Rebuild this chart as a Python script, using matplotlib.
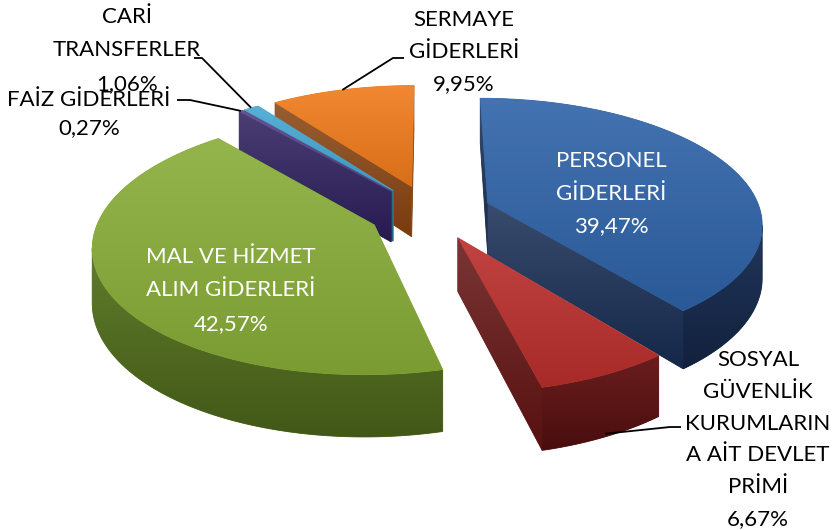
import numpy as np
import matplotlib
matplotlib.use("Agg")
import matplotlib.pyplot as plt
from matplotlib.patches import Polygon
from matplotlib.colors import to_rgb

# ─── Veri ─────────────────────────────────────────────────────────────────────
names = ["PERSONEL\nGİDERLERİ",
         "SOSYAL\nGÜVENLİK\nKURUMLARIN\nA AİT DEVLET\nPRİMİ",
         "MAL VE HİZMET\nALIM GİDERLERİ",
         "FAİZ GİDERLERİ",
         "CARİ\nTRANSFERLER",
         "SERMAYE\nGİDERLERİ"]
values = [39.47, 6.67, 42.57, 0.27, 1.06, 9.95]

top_colors  = ["#2f63a8", "#bb2f2c", "#88ad38", "#5a3f8c", "#45a7d2", "#f07b1b"]
side_colors = ["#172c52", "#621212", "#587520", "#2a1d5a", "#2a6f8c", "#86420f"]
text_colors = ["white", "black", "white", "black", "black", "black"]

# ─── Geometría (px) ──────────────────────────────────────────────────────────
CX, CY = 430, 212      # centro del pastel
RX, RY = 273, 123      # semiejes
P = 0.15               # perspectiva
H = 52                 # grosor
EXPLODE = 0.226

# posiciones de etiquetas: (x centro, baseline primera línea, interlineado)
label_pos = [(611, 167, 32.5), (758, 366, 31.8), (231, 263, 33.5),
             (89, 106, 28.5), (127, 23, 33.5), (464, 26, 32.0)]
# codos de las líneas guía (None = sin línea)
leader_elbow = [None, [(670, 427), (681, 427)], None,
                [(190, 100), (177, 100)], [(202, 58), (194, 58)],
                [(393, 58), (404, 58)]]
leader_z = [0, 0.95, 0, 0, 0, 0]


def proj(X, Y, Z):
    X = np.atleast_1d(X).astype(float)
    Y = np.atleast_1d(Y).astype(float)
    f = 1.0 / (1.0 + P * Y)
    return np.column_stack([CX + RX * X * f, CY - RY * Y * f + H * Z * f])


def area(p):
    x, y = p[:, 0], p[:, 1]
    return 0.5 * np.sum(x * np.roll(y, -1) - np.roll(x, -1) * y)


def lighten(c, k):
    c = np.array(to_rgb(c))
    return np.clip(c + (1 - c) * k, 0, 1) if k >= 0 else np.clip(c * (1 + k), 0, 1)


zc = [1]


def grad_poly(ax, pts, c1, c2, vertical=True):
    z = zc[0]; zc[0] += 1
    mid = tuple((np.array(c1) + np.array(c2)) / 2)
    poly = Polygon(pts, closed=True, facecolor=mid, edgecolor=mid, lw=0.6, zorder=z)
    ax.add_patch(poly)
    x0, y0 = pts.min(0)
    x1, y1 = pts.max(0)
    g = np.linspace(0, 1, 64)
    rgb = (1 - g)[:, None] * np.array(c1) + g[:, None] * np.array(c2)
    img = rgb[:, None, :] if vertical else rgb[None, :, :]
    im = ax.imshow(img, extent=(x0, x1, y1, y0), aspect="auto", zorder=z + 0.5,
                   interpolation="bilinear")
    im.set_clip_path(poly)


fig = plt.figure(figsize=(8.38, 5.30), dpi=100)
ax = fig.add_axes([0, 0, 1, 1])
ax.set_xlim(0, 838)
ax.set_ylim(530, 0)
ax.set_autoscale_on(False)
ax.axis("off")

vals = np.array(values)
bounds = np.concatenate([[0], np.cumsum(vals)]) / vals.sum() * 2 * np.pi
mids = (bounds[:-1] + bounds[1:]) / 2
order = np.argsort(-np.cos(mids))   # de atrás hacia adelante

for i in order:
    t1, t2, tm = bounds[i], bounds[i + 1], mids[i]
    ex, ey = EXPLODE * np.sin(tm), EXPLODE * np.cos(tm)
    n = max(3, int(np.degrees(t2 - t1)) + 2)
    th = np.linspace(t1, t2, n)
    rt = proj(np.sin(th) + ex, np.cos(th) + ey, 0)
    rb = proj(np.sin(th) + ex, np.cos(th) + ey, 1)
    ct = proj(ex, ey, 0)[0]
    cb = proj(ex, ey, 1)[0]

    side = side_colors[i]
    # paredes radiales
    walls = [np.array([rt[0], ct, cb, rb[0]]), np.array([ct, rt[-1], rb[-1], cb])]
    for w in walls:
        if area(w) > 0:
            grad_poly(ax, w, lighten(side, 0.15), lighten(side, -0.10))

    # pared exterior (sólo la parte visible)
    vis = np.array([area(np.array([rt[k + 1], rt[k], rb[k], rb[k + 1]])) > 0
                    for k in range(n - 1)])
    k = 0
    while k < n - 1:
        if vis[k]:
            a = k
            while k < n - 1 and vis[k]:
                k += 1
            b = k
            poly = np.vstack([rt[a:b + 1], rb[a:b + 1][::-1]])
            grad_poly(ax, poly, lighten(side, 0.05), lighten(side, -0.25))
        else:
            k += 1

    top = np.vstack([ct, rt])
    grad_poly(ax, top, lighten(top_colors[i], 0.10), lighten(top_colors[i], -0.10))

# ─── Etiquetas ───────────────────────────────────────────────────────────────
for i in range(len(values)):
    lines = names[i].split("\n") + [f"{values[i]:.2f}".replace(".", ",") + "%"]
    x, y0, ls = label_pos[i]
    for j, s in enumerate(lines):
        ax.text(x, y0 + j * ls, s, ha="center", va="baseline", fontsize=16,
                color=text_colors[i], family=["Lato", "DejaVu Sans"], zorder=500)
    if leader_elbow[i] is not None:
        tm = mids[i]
        ex, ey = EXPLODE * np.sin(tm), EXPLODE * np.cos(tm)
        anc = proj(np.sin(tm) + ex, np.cos(tm) + ey, leader_z[i])[0]
        pts = np.vstack([anc] + [np.array(p) for p in leader_elbow[i]])
        ax.plot(pts[:, 0], pts[:, 1], color="black", lw=1.3, zorder=400,
                solid_capstyle="butt")

fig.savefig("out.png", dpi=100)
